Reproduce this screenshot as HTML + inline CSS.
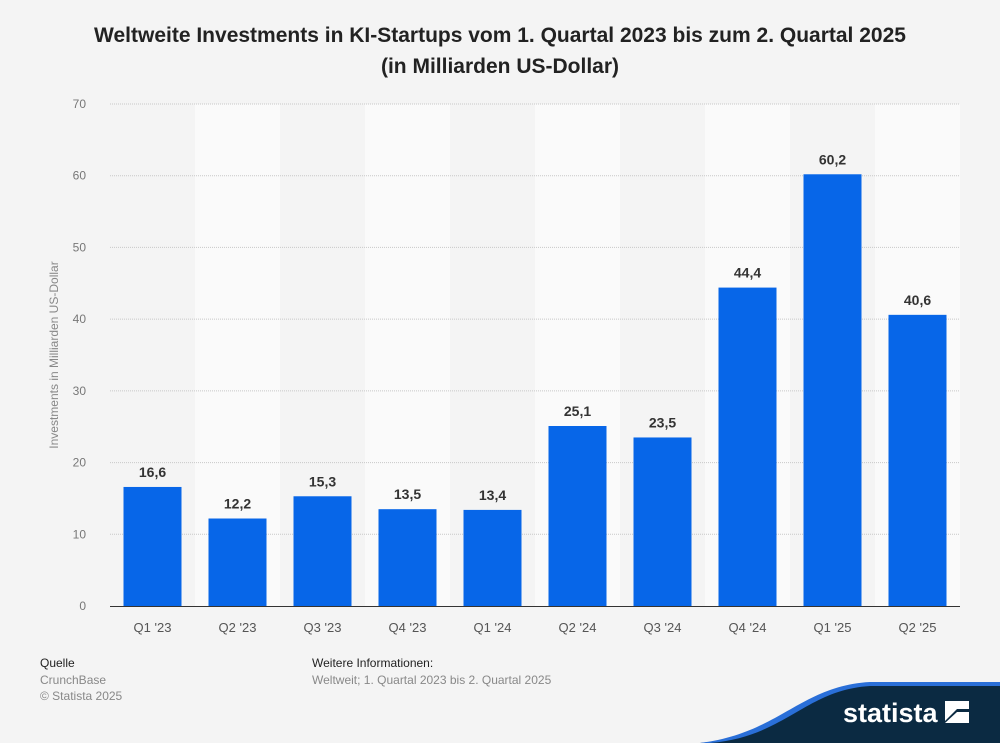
<!DOCTYPE html>
<html><head><meta charset="utf-8"><style>
body{margin:0;width:1000px;height:743px;background:#f4f4f4;font-family:"Liberation Sans",sans-serif;overflow:hidden;position:relative}
.t{position:absolute;left:0;width:1000px;text-align:center;font-weight:bold;font-size:21px;color:#222}
.f{position:absolute;font-size:12px;color:#888}
</style></head><body>
<div class="t" style="top:20px;line-height:31px">Weltweite Investments in KI-Startups vom 1. Quartal 2023 bis zum 2. Quartal 2025<br>(in Milliarden US-Dollar)</div>
<svg id="c" width="1000" height="743" style="position:absolute;left:0;top:0"></svg>
<div class="f" style="left:40px;top:656px;color:#222">Quelle</div>
<div class="f" style="left:40px;top:673px">CrunchBase</div>
<div class="f" style="left:40px;top:689px">© Statista 2025</div>
<div class="f" style="left:312px;top:656px;color:#222">Weitere Informationen:</div>
<div class="f" style="left:312px;top:673px">Weltweit; 1. Quartal 2023 bis 2. Quartal 2025</div>
<svg width="1000" height="743" style="position:absolute;left:0;top:0">
<path d="M700 743 C780 735 800 690 870 684 L1000 684 L1000 743 Z" fill="#0b2a42"/>
<path d="M700 743 C780 733 800 686 870 682 L1000 682 L1000 686 L870 686 C805 690 785 737 710 743 Z" fill="#2a6fd8"/>
<text x="843" y="722" fill="#fff" font-size="27" font-weight="bold" font-family="Liberation Sans,sans-serif">statista</text>
<path d="M945 701 L969 701 L969 709 L957 709 L945 721 Z M969 712 L969 723 L945 723 L957 712 Z" fill="#fff"/>
</svg>
<script>
const categories=["Q1 '23","Q2 '23","Q3 '23","Q4 '23","Q1 '24","Q2 '24","Q3 '24","Q4 '24","Q1 '25","Q2 '25"];
const values=[16.6,12.2,15.3,13.5,13.4,25.1,23.5,44.4,60.2,40.6];
const yTicks=[0,10,20,30,40,50,60,70];
const NS="http://www.w3.org/2000/svg",svg=document.getElementById('c');
const x0=110,x1=960,y0=606,y1=104,yMax=70;
const bw=(x1-x0)/categories.length;
const y=v=>y0-(v/yMax)*(y0-y1);
const xC=i=>x0+bw*(i+0.5);
function mk(t,a,txt){const e=document.createElementNS(NS,t);for(const k in a)e.setAttribute(k,a[k]);if(txt!=null)e.textContent=txt;svg.appendChild(e);return e;}
categories.forEach((c,i)=>{if(i%2==1){const r=mk('rect',{x:x0+bw*i,y:y1,width:bw,height:y0-y1,fill:'#fafafa'});

}});
yTicks.forEach(t=>{if(t>0){const l=mk('line',{x1:x0,x2:x1,y1:y(t),y2:y(t),stroke:'#c8c8c8','stroke-dasharray':'1,1'});

}
const tx=mk('text',{x:86,y:y(t)+4,'text-anchor':'end','font-size':12,fill:'#777'},t);

});
const yt=mk('text',{transform:'translate(58,355) rotate(-90)','text-anchor':'middle','font-size':12,fill:'#888'},'Investments in Milliarden US-Dollar');


values.forEach((v,i)=>{const b=mk('rect',{x:xC(i)-29,y:y(v),width:58,height:y0-y(v),fill:'#0766e8'});


const l=mk('text',{x:xC(i),y:y(v)-10,'text-anchor':'middle','font-size':14,'font-weight':'bold',fill:'#333'},v.toFixed(1).replace('.',','));


const c=mk('text',{x:xC(i),y:y0+26,'text-anchor':'middle','font-size':13,fill:'#555'},categories[i]);

});
const ax=mk('line',{x1:x0,x2:x1,y1:y0+0.5,y2:y0+0.5,stroke:'#333','stroke-width':1});


</script>
</body></html>
